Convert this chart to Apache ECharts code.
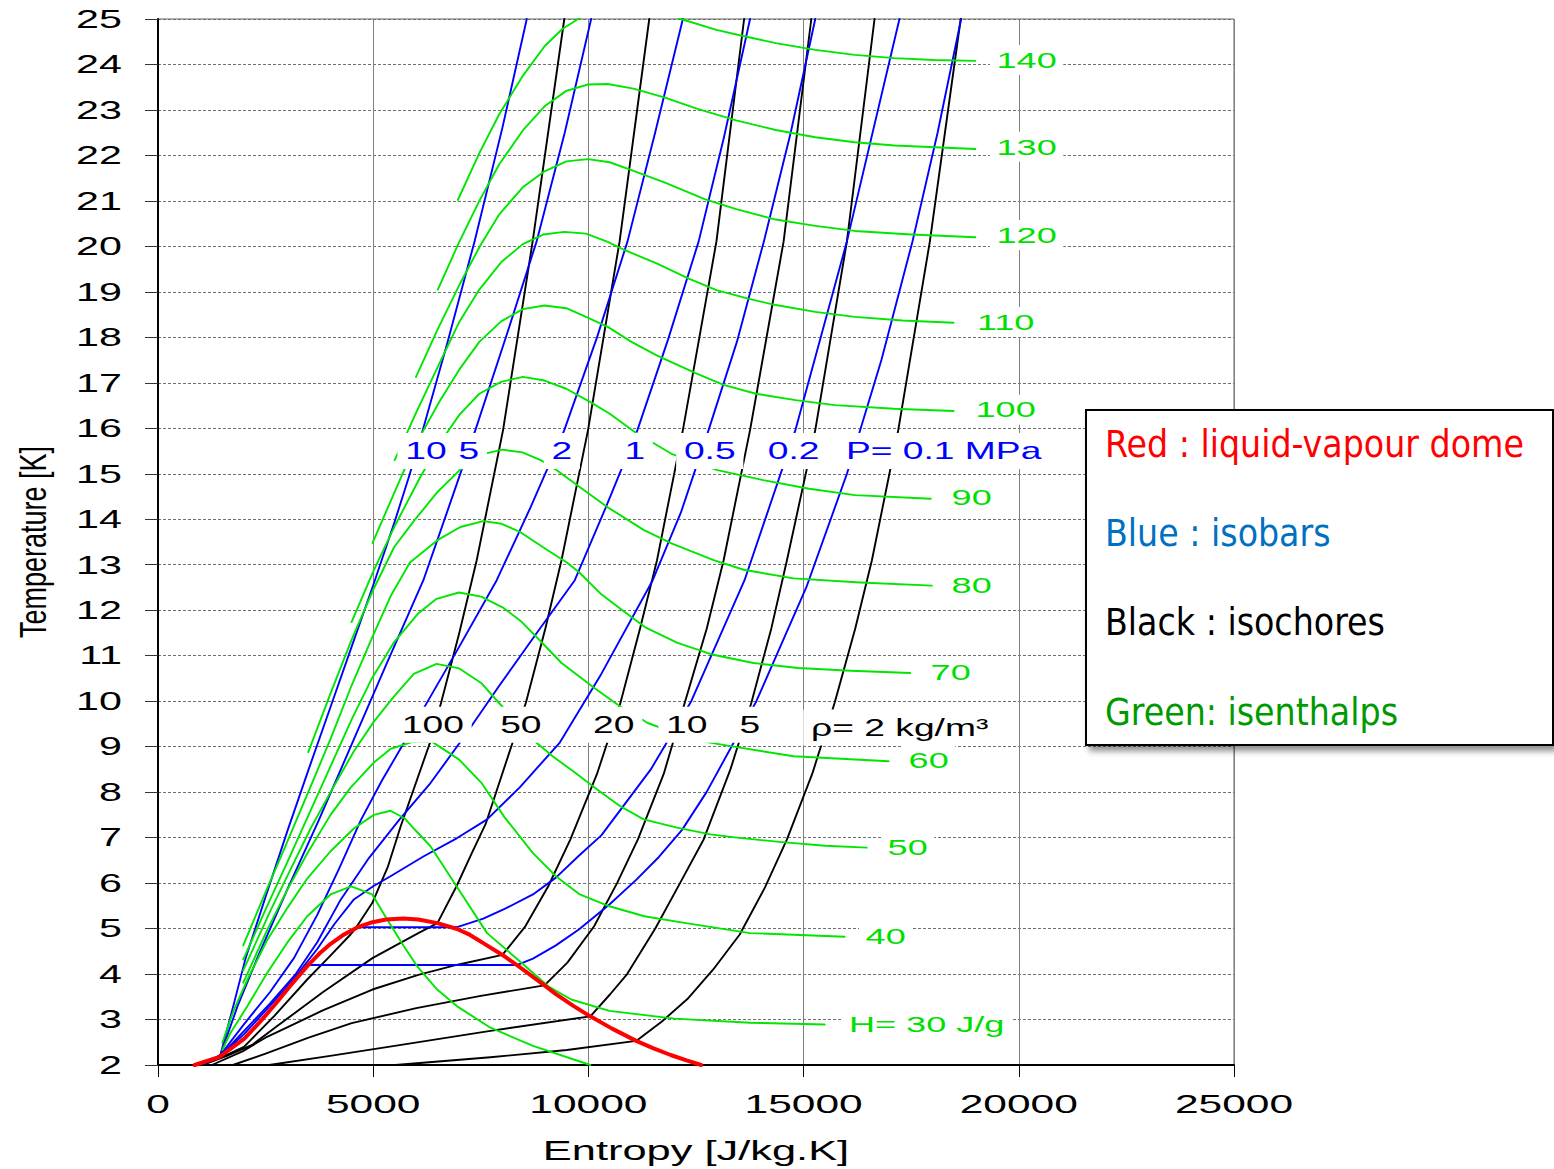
<!DOCTYPE html>
<html><head><meta charset="utf-8">
<script src="https://cdn.jsdelivr.net/npm/echarts@6/dist/echarts.min.js"></script>
<style>html,body{margin:0;padding:0;background:#fff;}#c{width:1554px;height:1169px;}</style>
</head><body><div id="c"></div>
<script>
// ---------- axes ----------
const xTicks = [0, 5000, 10000, 15000, 20000, 25000];
const yTicks = [2,3,4,5,6,7,8,9,10,11,12,13,14,15,16,17,18,19,20,21,22,23,24,25];

// ---------- liquid-vapour dome [s (J/kg.K), T (K)] ----------
const dome = [[853,2.0],[1430,2.18],[2007,2.58],[2400,2.98],[2762,3.38],[3100,3.77],[3472,4.18],[3750,4.45],[4005,4.66],[4320,4.87],[4640,5.03],[4982,5.14],[5300,5.2],[5700,5.22],[6048,5.2],[6492,5.12],[6950,4.99],[7250,4.86],[7558,4.68],[8002,4.42],[8350,4.19],[8712,3.94],[8979,3.75],[9245,3.56],[9650,3.3],[10044,3.07],[10550,2.8],[11110,2.53],[11500,2.37],[11910,2.22],[12280,2.1],[12620,2.0]];

// ---------- isobars ----------
const isobar10MPa = [[1200,2.08],[1450,2.22],[1750,3.3],[2036,4.35],[2500,5.7],[3011,7.16],[3500,8.5],[4000,9.85],[4500,11.2],[5000,12.55],[5500,13.95],[5836,14.95],[6134,15.9],[6700,17.8],[7355,20.11],[8000,22.6],[8568,25]];
const isobar5MPa = [[1200,2.08],[1450,2.22],[1850,3.3],[2306,4.35],[3000,5.85],[3739,7.39],[4500,9.05],[5300,10.8],[6166,12.66],[6750,14.25],[7374,15.96],[8100,18.05],[8797,20.11],[9450,22.5],[10064,25]];
const isobar2MPa = [[1200,2.08],[1450,2.22],[2000,2.9],[2600,3.6],[3158,4.35],[3700,5.3],[4200,6.3],[4716,7.39],[5200,8.25],[5712,9.08],[6300,10.05],[7000,11.2],[7870,12.66],[8650,14.25],[9440,15.96],[10200,18.0],[10909,20.11],[11550,22.5],[12195,25]];
const isobar1MPa = [[1200,2.08],[1450,2.2],[2000,2.75],[2600,3.35],[3200,4.0],[3700,4.7],[4241,5.63],[4900,6.55],[5604,7.39],[6331,8.2],[7100,9.2],[7900,10.3],[8800,11.5],[9684,12.66],[10400,14.25],[11139,15.96],[11850,17.95],[12562,20.11],[13150,22.4],[13756,25]];
const isobar05MPa = [[1200,2.08],[1450,2.2],[2000,2.68],[2600,3.3],[3200,3.95],[3700,4.55],[4100,5.1],[4551,5.64],[5000,5.93],[5402,6.15],[6176,6.59],[6950,6.99],[7647,7.4],[8400,8.1],[9336,9.09],[10300,10.6],[11495,12.66],[12150,14.15],[12792,15.96],[13450,17.9],[14077,20.11],[14700,22.5],[15271,25]];
const isobar02MPa = [[1000,2.02],[1430,2.18],[2007,2.58],[2762,3.38],[3472,4.18],[4005,4.66],[4640,5.03],[6950,5.03],[7558,5.22],[8091,5.45],[8712,5.75],[9245,6.12],[9778,6.6],[10300,7.05],[11450,8.5],[12390,10.0],[13628,12.66],[14810,15.96],[16006,20.11],[17227,25]];
const isobar01MPa = [[1000,2.02],[1430,2.18],[2007,2.58],[2762,3.38],[3450,4.2],[8350,4.2],[8712,4.34],[9245,4.63],[9778,4.98],[10488,5.53],[11110,6.07],[11643,6.58],[12176,7.17],[12745,8.0],[13903,10.0],[15062,12.5],[16007,15.0],[16808,17.5],[17530,20.11],[18113,22.5],[18660,25]];

// ---------- isochores ----------
const isochore100 = [[950,2.0],[1500,2.18],[1997,2.4],[2693,3.07],[3467,3.88],[4000,4.4],[4474,4.87],[4580,4.99],[4977,5.56],[5337,6.35],[5643,7.26],[6317,9.08],[6576,9.96],[7000,11.5],[7405,13.1],[8017,15.96],[8705,20.11],[9440,25]];
const isochore50 = [[1030,2.0],[1600,2.2],[2200,2.45],[2762,2.85],[3828,3.6],[4982,4.35],[6048,4.9],[6492,5.12],[6936,5.93],[7291,6.66],[7613,7.3],[8235,9.08],[8546,9.96],[9000,11.6],[9375,13.1],[9991,15.96],[10725,20.11],[11414,25]];
const isochore20 = [[1252,2.0],[1963,2.3],[2496,2.6],[2940,2.8],[3828,3.2],[4982,3.66],[6048,3.98],[6936,4.2],[8002,4.42],[8535,5.05],[9067,5.93],[9582,6.96],[10200,8.4],[10743,9.96],[11200,11.6],[11594,13.1],[12195,15.96],[12975,20.11],[13618,25]];
const isochore10 = [[1740,2.0],[2500,2.25],[3500,2.6],[4500,2.92],[6000,3.25],[7500,3.52],[8979,3.75],[9512,4.25],[10133,5.05],[10666,6.0],[11150,6.96],[11750,8.4],[12237,9.96],[12750,11.6],[13142,13.1],[13756,15.96],[14536,20.11],[15179,25]];
const isochore5 = [[2584,2.0],[4000,2.2],[5500,2.42],[7724,2.75],[10044,3.07],[10500,3.55],[10900,4.0],[11554,5.0],[12100,5.95],[12678,6.96],[13300,8.5],[13785,9.96],[14250,11.6],[14613,13.1],[15271,15.96],[16006,20.11],[16648,25]];
const isochore2 = [[5515,2.0],[7724,2.17],[9500,2.33],[11110,2.53],[11700,2.95],[12300,3.45],[12900,4.1],[13516,4.87],[14100,5.9],[14613,6.96],[15200,8.4],[15720,9.96],[16200,11.6],[16587,13.1],[17199,15.96],[17934,20.11],[18650,25]];

// ---------- isenthalps ----------
const isenthalp20 = [[1494,2.33],[1687,2.71],[2074,3.29],[2539,4.03],[3003,4.69],[3467,5.27],[4009,5.75],[4489,5.93],[4977,5.75],[5325,5.2],[5712,4.61],[6022,4.17],[6486,3.66],[6950,3.29],[7724,2.82],[8712,2.42],[10044,2.0]];
const isenthalp30 = [[1494,2.49],[1765,3.22],[2113,3.95],[2539,4.75],[3003,5.45],[3467,6.1],[4009,6.7],[4551,7.2],[5015,7.5],[5400,7.59],[5737,7.42],[5944,7.2],[6331,6.81],[6936,5.93],[7646,4.9],[8357,4.32],[9067,3.73],[9600,3.44],[10488,3.19],[12000,3.02],[13757,2.93],[15490,2.89]];
const isenthalp40 = [[1981,3.81],[2539,4.97],[3003,5.85],[3467,6.65],[4009,7.5],[4474,8.1],[5015,8.65],[5402,8.95],[5900,9.1],[6363,9.11],[6991,8.72],[7509,8.21],[8050,7.45],[8712,6.66],[9245,6.15],[9800,5.75],[10488,5.49],[11300,5.27],[12265,5.12],[13757,4.9],[15955,4.82]];
const isenthalp50 = [[1981,4.08],[2616,5.4],[3080,6.3],[3545,7.2],[4009,8.0],[4551,8.9],[5015,9.55],[5480,10.1],[5944,10.6],[6472,10.82],[7000,10.72],[7509,10.4],[7924,9.96],[8753,9.12],[9168,8.79],[9686,8.43],[10205,8.06],[10723,7.7],[11285,7.4],[12059,7.22],[12833,7.07],[13452,7.0],[14500,6.9],[15500,6.82],[16466,6.78]];
const isenthalp60 = [[1981,4.32],[2500,5.42],[3000,6.45],[3500,7.5],[4000,8.55],[4500,9.6],[4969,10.5],[5487,11.3],[6037,11.92],[6472,12.25],[6991,12.39],[7509,12.3],[8027,12.05],[8442,11.75],[8857,11.35],[9375,10.84],[10139,10.29],[10681,9.92],[11378,9.52],[12100,9.27],[12755,9.1],[13375,9.0],[14768,8.79],[16974,8.68]];
const isenthalp70 = [[1981,4.63],[2500,5.8],[3000,6.9],[3491,8.0],[4000,9.15],[4500,10.35],[5000,11.45],[5400,12.3],[5853,13.05],[6493,13.54],[7026,13.83],[7559,13.96],[7985,13.9],[8412,13.72],[9052,13.32],[9500,13.05],[9790,12.83],[10300,12.35],[10827,11.97],[11345,11.61],[12071,11.28],[12900,11.02],[13834,10.84],[14871,10.73],[16094,10.67],[17477,10.62]];
const isenthalp80 = [[3491,8.88],[4000,10.15],[4497,11.35],[5000,12.45],[5488,13.39],[5952,13.97],[6494,14.6],[6997,15.07],[7500,15.42],[8000,15.53],[8465,15.47],[8892,15.3],[9265,15.08],[9798,14.71],[10438,14.27],[11291,13.76],[11930,13.47],[12910,13.1],[13607,12.89],[14768,12.7],[16316,12.61],[17980,12.54]];
const isenthalp90 = [[4497,11.74],[5000,12.85],[5500,13.85],[6107,14.95],[6600,15.75],[7006,16.3],[7466,16.76],[7971,17.02],[8476,17.13],[8981,17.05],[9486,16.87],[10037,16.58],[10496,16.32],[11077,15.92],[11930,15.44],[12997,15.08],[14063,14.86],[15129,14.67],[16195,14.53],[17954,14.45]];
const isenthalp100 = [[4985,13.48],[5681,15.0],[6134,15.9],[6547,16.6],[7006,17.3],[7466,17.9],[7971,18.35],[8476,18.62],[8981,18.7],[9486,18.64],[9945,18.45],[10450,18.23],[11000,17.9],[11598,17.6],[12516,17.2],[13159,16.95],[13893,16.76],[14812,16.62],[15730,16.51],[17107,16.43],[18485,16.38]];
const isenthalp110 = [[5500,15.3],[6000,16.35],[6500,17.35],[7006,18.35],[7466,19.05],[7971,19.65],[8476,20.05],[8950,20.26],[9440,20.32],[9945,20.28],[10450,20.1],[10863,19.91],[11598,19.62],[12332,19.29],[12975,19.04],[13710,18.85],[14353,18.71],[15271,18.56],[16189,18.45],[17300,18.37],[18485,18.32]];
const isenthalp120 = [[5994,17.13],[6500,18.18],[7000,19.15],[7466,19.98],[7925,20.7],[8476,21.3],[8981,21.65],[9486,21.87],[9991,21.92],[10496,21.85],[11047,21.66],[11781,21.4],[12700,21.04],[13434,20.82],[14353,20.59],[15271,20.45],[16189,20.34],[17500,20.26],[18990,20.2]];
const isenthalp130 = [[6501,19.05],[7000,20.1],[7466,21.0],[7925,21.8],[8476,22.55],[8981,23.08],[9486,23.42],[9991,23.56],[10450,23.57],[11047,23.47],[11781,23.27],[12516,23.03],[13434,22.77],[14353,22.56],[15271,22.4],[16189,22.29],[17107,22.22],[18990,22.14]];
const isenthalp140 = [[6967,21.02],[7466,22.05],[7925,22.9],[8476,23.75],[8981,24.4],[9394,24.78],[9761,25.0],[10400,25.35],[11000,25.42],[11600,25.25],[12149,25.0],[12975,24.76],[13618,24.62],[14353,24.47],[15271,24.32],[16189,24.21],[17107,24.14],[18026,24.1],[18990,24.08]];

// ---------- curve labels ----------
const isobarLabels = ['10','5','2','1','0.5','0.2','P= 0.1 MPa'];
const isobarLabelS = [6224,7223,9383,11078,12820,14770,18254];
const isobarLabelT = 15.5;
const isochoreLabels = ['100','50','20','10','5','\u03c1= 2 kg/m\u00b3'];
const isochoreLabelS = [6387,8430,10590,12286,13749,17232];
const isochoreLabelT = [9.48,9.48,9.48,9.48,9.48,9.42];
const isenthalpLabels = ['140','130','120','110','100','90','80','70','60','50','40','H= 30 J/g'];
const isenthalpLabelS = [20182,20182,20182,19694,19694,18904,18904,18416,17906,17418,16907,17860];
const isenthalpLabelT = [24.1,22.19,20.25,18.34,16.41,14.49,12.54,10.63,8.69,6.78,4.82,2.89];

const legendLines = ['Red : liquid-vapour dome','Blue : isobars','Black : isochores','Green: isenthalps'];
const legendColors = ['#ff0000','#0070c0','#000000','#009a00'];

// ---------- chart ----------
const BLUE = '#0000ff', GREEN = '#00e600', BLACK = '#000000', RED = '#ff0000';
const LW = 1.9;
const chart = echarts.init(document.getElementById('c'), null, {renderer: 'svg'});
function line(name, data, color, width, z) {
  return {type: 'line', name, data, symbol: 'none', showSymbol: false, silent: true, clip: true,
    animation: false, z, lineStyle: {color, width, join: 'round', cap: 'round'}};
}
const series = [
  line('rho100', isochore100, BLACK, LW, 3), line('rho50', isochore50, BLACK, LW, 3),
  line('rho20', isochore20, BLACK, LW, 3), line('rho10', isochore10, BLACK, LW, 3),
  line('rho5', isochore5, BLACK, LW, 3), line('rho2', isochore2, BLACK, LW, 3),
  line('P10', isobar10MPa, BLUE, LW, 4), line('P5', isobar5MPa, BLUE, LW, 4),
  line('P2', isobar2MPa, BLUE, LW, 4), line('P1', isobar1MPa, BLUE, LW, 4),
  line('P0.5', isobar05MPa, BLUE, LW, 4), line('P0.2', isobar02MPa, BLUE, LW, 4),
  line('P0.1', isobar01MPa, BLUE, LW, 4),
  line('H20', isenthalp20, GREEN, LW, 5), line('H30', isenthalp30, GREEN, LW, 5),
  line('H40', isenthalp40, GREEN, LW, 5), line('H50', isenthalp50, GREEN, LW, 5),
  line('H60', isenthalp60, GREEN, LW, 5), line('H70', isenthalp70, GREEN, LW, 5),
  line('H80', isenthalp80, GREEN, LW, 5), line('H90', isenthalp90, GREEN, LW, 5),
  line('H100', isenthalp100, GREEN, LW, 5), line('H110', isenthalp110, GREEN, LW, 5),
  line('H120', isenthalp120, GREEN, LW, 5), line('H130', isenthalp130, GREEN, LW, 5),
  line('H140', isenthalp140, GREEN, LW, 5),
  line('dome', dome, RED, 4, 6)
];

chart.setOption({
  animation: false,
  grid: {left: 158, top: 19, width: 1076, height: 1046, show: true, borderColor: '#666', borderWidth: 1},
  xAxis: {type: 'value', min: 0, max: 25000, interval: 5000,
    axisLine: {onZero: false, lineStyle: {color: '#000', width: 2}},
    axisTick: {show: true, length: 12, lineStyle: {color: '#000', width: 1}},
    axisLabel: {show: false},
    splitLine: {show: true, lineStyle: {color: '#808080', width: 1}}},
  yAxis: {type: 'value', min: 2, max: 25, interval: 1,
    axisLine: {show: true, onZero: false, lineStyle: {color: '#000', width: 2}},
    axisTick: {show: true, length: 13, lineStyle: {color: '#333', width: 1}},
    axisLabel: {show: false},
    splitLine: {show: true, lineStyle: {color: '#707070', width: 1, type: [3, 2]}}},
  series
});

// ---------- text (stretched like the original) ----------
const AR = '"Liberation Sans", Arial, sans-serif';
function px(s, T) { return chart.convertToPixel({gridIndex: 0}, [s, T]); }
function txt(x, y, text, o) {
  const al = o.align || 'center';
  const st = {text, fill: o.color || '#000', font: o.font, align: al, textAlign: al,
    verticalAlign: 'middle', textVerticalAlign: 'middle'};
  if (o.bg) { st.backgroundColor = o.bg; st.padding = o.pad || [4, 6]; }
  return {type: 'text', x, y, z: 101, silent: true, scaleX: o.sx || 1, scaleY: o.sy || 1,
    rotation: o.rot || 0, style: st};
}
const g = [];
yTicks.forEach(t => { const p = px(0, t); g.push(txt(p[0] - 36, p[1], String(t), {font: '25px ' + AR, sx: 1.65, align: 'right'})); });
xTicks.forEach(v => { const p = px(v, 2); g.push(txt(p[0], p[1] + 39, String(v), {font: '25px ' + AR, sx: 1.7})); });
{ const a = px(0, 2), b = px(25000, 2); g.push(txt((a[0] + b[0]) / 2, a[1] + 85, 'Entropy [J/kg.K]', {font: '28px ' + AR, sx: 1.55})); }
{ const a = px(0, 2), b = px(0, 25); g.push(txt(33, (a[1] + b[1]) / 2, 'Temperature [K]', {font: '27px ' + AR, sy: 1.4, rot: Math.PI / 2})); }
isobarLabels.forEach((l, i) => { const p = px(isobarLabelS[i], isobarLabelT); g.push(txt(p[0], p[1], l, {font: '24px ' + AR, sx: 1.55, color: BLUE, bg: '#fff', pad: [6, 5]})); });
isochoreLabels.forEach((l, i) => { const p = px(isochoreLabelS[i], isochoreLabelT[i]); g.push(txt(p[0], p[1], l, {font: '24px ' + AR, sx: 1.55, color: BLACK, bg: '#fff', pad: [6, 5]})); });
isenthalpLabels.forEach((l, i) => { const p = px(isenthalpLabelS[i], isenthalpLabelT[i]); g.push(txt(p[0], p[1], l, {font: '22px ' + AR, sx: 1.64, color: '#00e000', bg: '#fff', pad: [4, 4]})); });
// legend box
g.push({type: 'rect', z: 100, silent: true, shape: {x: 1086, y: 410, width: 467, height: 335},
  style: {fill: '#fff', stroke: '#000', lineWidth: 2, shadowBlur: 6, shadowOffsetX: 4, shadowOffsetY: 5, shadowColor: 'rgba(0,0,0,0.45)'}});
const legY = [444, 533, 622, 712];
legendLines.forEach((l, i) => g.push(txt(1105, legY[i], l, {font: '37px "DejaVu Sans Condensed", ' + AR, color: legendColors[i], align: 'left'})));
chart.setOption({graphic: {elements: g}});
</script></body></html>
